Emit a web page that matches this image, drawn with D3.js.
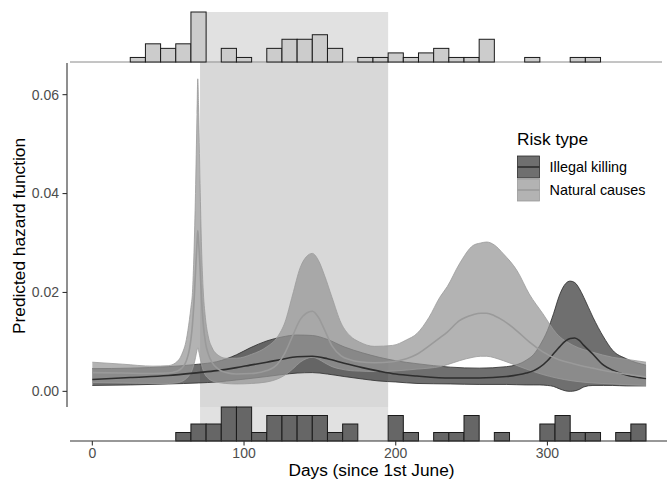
<!DOCTYPE html>
<html><head><meta charset="utf-8">
<script src="https://cdn.jsdelivr.net/npm/d3@7"></script>
<style>body{margin:0;background:#fff}svg{display:block;font-family:"Liberation Sans",Arial,sans-serif}</style>
</head><body>
<svg id="chart" width="668" height="482"></svg>
<script>
// ---------- data ----------
const natDays  = [0,20,40,50,55,59,62,64,65,66,67,68,69,69.5,70,71,72,73,74.5,76.5,79,83,88,95,105,115,122,127,132,137,141,145,149,153,158,164,170,176,186,198,207,214,222,229,234,242,251,256,260,265,271,280,288,297,306,317,330,343,354,365];
const natUpper = [.0059,.0055,.0051,.0052,.0058,.0075,.0105,.0145,.0170,.0200,.0280,.0400,.0560,.0632,.0580,.0420,.0290,.0210,.0150,.0110,.0088,.0073,.0067,.0067,.0075,.0090,.0110,.0140,.0195,.0250,.0272,.0279,.0265,.0235,.0190,.0138,.0112,.0100,.0091,.0093,.0104,.0117,.0150,.0190,.0212,.0258,.0295,.0300,.0302,.0296,.0278,.0244,.0197,.0157,.0117,.0093,.0079,.0069,.0064,.0059];
const natMean  = [.0038,.0037,.0036,.0037,.0040,.0047,.0062,.0085,.0105,.0135,.0180,.0240,.0300,.0325,.0305,.0250,.0185,.0140,.0100,.0075,.0058,.0045,.0038,.0035,.0036,.0042,.0055,.0078,.0112,.0145,.0158,.0162,.0150,.0125,.0092,.0072,.0064,.0060,.0058,.0060,.0066,.0075,.0092,.0108,.0120,.0143,.0155,.0158,.0158,.0153,.0143,.0122,.0100,.0080,.0066,.0056,.0047,.0039,.0034,.0029];
const natLower = [.0018,.0017,.0016,.0016,.0017,.0020,.0026,.0033,.0038,.0045,.0055,.0068,.0083,.0088,.0083,.0068,.0054,.0043,.0033,.0026,.0021,.0018,.0016,.0015,.0016,.0019,.0025,.0033,.0045,.0059,.0066,.0069,.0065,.0058,.0050,.0045,.0042,.0041,.0040,.0041,.0043,.0045,.0047,.0050,.0054,.0062,.0069,.0071,.0071,.0068,.0062,.0052,.0043,.0034,.0027,.0021,.0017,.0015,.0013,.0012];

const illDays  = [0,25,50,70,82,95,104,115,125,135,145,155,166,178,189,200,214,236,255,273,286,291,295,300,304,308,312,315,318,321,324,330,337,343,352,365];
const illUpper = [.0046,.0047,.0050,.0055,.0060,.0074,.0088,.0102,.0110,.0114,.0113,.0105,.0090,.0078,.0069,.0062,.0056,.0049,.0047,.0050,.0063,.0075,.0093,.0123,.0157,.0195,.0218,.0223,.0220,.0208,.0190,.0150,.0110,.0083,.0066,.0053];
const illMean  = [.0024,.0028,.0032,.0038,.0042,.0048,.0053,.0059,.0065,.0070,.0071,.0066,.0057,.0048,.0041,.0035,.0031,.0027,.0027,.0030,.0037,.0042,.0049,.0062,.0076,.0090,.0102,.0107,.0108,.0103,.0093,.0075,.0053,.0043,.0033,.0026];
const illLower = [.0012,.0013,.0015,.0017,.0019,.0023,.0026,.0030,.0034,.0037,.0038,.0035,.0030,.0025,.0021,.0019,.0016,.0015,.0014,.0014,.0013,.0013,.0013,.0012,.0010,.0005,.0001,.0000,.0001,.0004,.0009,.0012,.0012,.0012,.0011,.0011];

// histograms (10-day bins, start day of bin)
const natBinStart = [25,35,45,55,65,75,85,95,105,115,125,135,145,155,165,175,185,195,205,215,225,235,245,255,265,275,285,295,305,315,325];
const natCounts   = [1,4,3,4,11,0,3,1,0,3,5,5,6,3,0,1,1,2,1,2,3,1,1,5,0,0,1,0,0,1,1];
const illBinStart = [55,65,75,85,95,105,115,125,135,145,155,165,175,185,195,205,215,225,235,245,255,265,275,285,295,305,315,325,335,345,355];
const illCounts   = [1,2,2,4,4,1,3,3,3,3,1,2,0,0,3,1,0,1,1,3,0,1,0,0,2,3,1,1,0,1,2];

const shadeDays = [71,195];
const xTicks = [0,100,200,300];
const yTicks = [0,0.02,0.04,0.06];
const yTickLabels = ["0.00","0.02","0.04","0.06"];
const legendTitle = "Risk type";
const legendLabels = ["Illegal killing","Natural causes"];
const xTitle = "Days (since 1st June)";
const yTitle = "Predicted hazard function";

// ---------- layout ----------
const svg = d3.select("#chart");
const x = d3.scaleLinear().domain([-16.7,377.5]).range([67,665]);
const y = d3.scaleLinear().domain([-0.00316,0.0664]).range([407,63]);
const yTop = d3.scaleLinear().domain([0,11]).range([62,12]);
const yBot = d3.scaleLinear().domain([0,4]).range([441,407]);

const illFill="#3d3d3d", illOp=0.74, natFill="#969696", natOp=0.72;
const tickFont=14, legendFont=14.4, titleFont=17.3;

// shading
svg.append("rect").attr("x",x(shadeDays[0])).attr("width",x(shadeDays[1])-x(shadeDays[0]))
  .attr("y",12).attr("height",51).attr("fill","#e1e1e1");
svg.append("rect").attr("x",x(shadeDays[0])).attr("width",x(shadeDays[1])-x(shadeDays[0]))
  .attr("y",63).attr("height",344).attr("fill","#d8d8d8");
svg.append("rect").attr("x",x(shadeDays[0])).attr("width",x(shadeDays[1])-x(shadeDays[0]))
  .attr("y",407).attr("height",34).attr("fill","#e1e1e1");

// top histogram
svg.append("line").attr("x1",70).attr("x2",662).attr("y1",62).attr("y2",62).attr("stroke","#8a8a8a").attr("stroke-width",1);
svg.append("g").selectAll("rect").data(natBinStart.map((b,i)=>({b,c:natCounts[i]})).filter(d=>d.c>0))
  .join("rect").attr("x",d=>x(d.b)).attr("width",d=>x(d.b+10)-x(d.b))
  .attr("y",d=>yTop(d.c)).attr("height",d=>yTop(0)-yTop(d.c))
  .attr("fill","#cccccc").attr("stroke","#1a1a1a").attr("stroke-width",1);

// bottom histogram
svg.append("g").selectAll("rect").data(illBinStart.map((b,i)=>({b,c:illCounts[i]})).filter(d=>d.c>0))
  .join("rect").attr("x",d=>x(d.b)).attr("width",d=>x(d.b+10)-x(d.b))
  .attr("y",d=>yBot(d.c)).attr("height",d=>yBot(0)-yBot(d.c))
  .attr("fill","#666666").attr("stroke","#1a1a1a").attr("stroke-width",1);
svg.append("line").attr("x1",70).attr("x2",667).attr("y1",441).attr("y2",441).attr("stroke","#333").attr("stroke-width",1.1);

// ribbons
function ribbon(days, lo, hi, fill, op, edge){
  const pts = days.map((d,i)=>({d,lo:lo[i],hi:hi[i]}));
  const area = d3.area().x(p=>x(p.d)).y0(p=>y(p.lo)).y1(p=>y(p.hi)).curve(d3.curveMonotoneX);
  svg.append("path").attr("d",area(pts)).attr("fill",fill).attr("fill-opacity",op);
  const lu = d3.line().x(p=>x(p.d)).y(p=>y(p.hi)).curve(d3.curveMonotoneX);
  const ll = d3.line().x(p=>x(p.d)).y(p=>y(p.lo)).curve(d3.curveMonotoneX);
  svg.append("path").attr("d",lu(pts)).attr("fill","none").attr("stroke",edge).attr("stroke-width",0.8);
  svg.append("path").attr("d",ll(pts)).attr("fill","none").attr("stroke",edge).attr("stroke-width",0.8);
}
ribbon(illDays, illLower, illUpper, illFill, illOp, "#2b2b2b");
ribbon(natDays, natLower, natUpper, natFill, natOp, "#9a9a9a");

function meanLine(days, vals, col, w){
  const l = d3.line().x((d,i)=>x(days[i])).y(d=>y(d)).curve(d3.curveMonotoneX);
  svg.append("path").attr("d",l(vals)).attr("fill","none").attr("stroke",col).attr("stroke-width",w);
}
meanLine(illDays, illMean, "#2e2e2e", 1.6);
meanLine(natDays, natMean, "#9a9a9a", 1.6);

// y axis
svg.append("line").attr("x1",67).attr("x2",67).attr("y1",63).attr("y2",407).attr("stroke","#333").attr("stroke-width",1.1);
const yg = svg.append("g");
yTicks.forEach((t,i)=>{
  yg.append("line").attr("x1",62.5).attr("x2",67).attr("y1",y(t)).attr("y2",y(t)).attr("stroke","#333").attr("stroke-width",1.1);
  yg.append("text").attr("x",59).attr("y",y(t)).attr("dy","0.35em").attr("text-anchor","end")
    .attr("font-size",tickFont).attr("fill","#4d4d4d").text(yTickLabels[i]);
});
// x axis (bottom strip)
xTicks.forEach(t=>{
  svg.append("line").attr("x1",x(t)).attr("x2",x(t)).attr("y1",441).attr("y2",445.5).attr("stroke","#333").attr("stroke-width",1.1);
  svg.append("text").attr("x",x(t)).attr("y",457.5).attr("text-anchor","middle")
    .attr("font-size",tickFont).attr("fill","#4d4d4d").text(t);
});
svg.append("text").attr("x",371.5).attr("y",476).attr("text-anchor","middle").attr("font-size",titleFont).attr("fill","#000").text(xTitle);
svg.append("text").attr("transform","translate(24.5,236) rotate(-90)").attr("text-anchor","middle").attr("font-size",titleFont).attr("fill","#000").text(yTitle);

// legend
const lg = svg.append("g");
lg.append("text").attr("x",517).attr("y",145).attr("font-size",titleFont).attr("fill","#000").text(legendTitle);
const keys=[{f:illFill,o:illOp,e:"#2b2b2b",l:"#2e2e2e"},{f:natFill,o:natOp,e:"#9a9a9a",l:"#9a9a9a"}];
keys.forEach((k,i)=>{
  const ky = 156 + i*23;
  lg.append("rect").attr("x",517.5).attr("y",ky).attr("width",22).attr("height",22)
    .attr("fill",k.f).attr("fill-opacity",k.o).attr("stroke",k.e).attr("stroke-width",0.8);
  lg.append("line").attr("x1",517.5).attr("x2",539.5).attr("y1",ky+11).attr("y2",ky+11).attr("stroke",k.l).attr("stroke-width",1.6);
  lg.append("text").attr("x",549.5).attr("y",ky+11).attr("dy","0.35em").attr("font-size",legendFont).attr("fill","#000").text(legendLabels[i]);
});
</script>
</body></html>
